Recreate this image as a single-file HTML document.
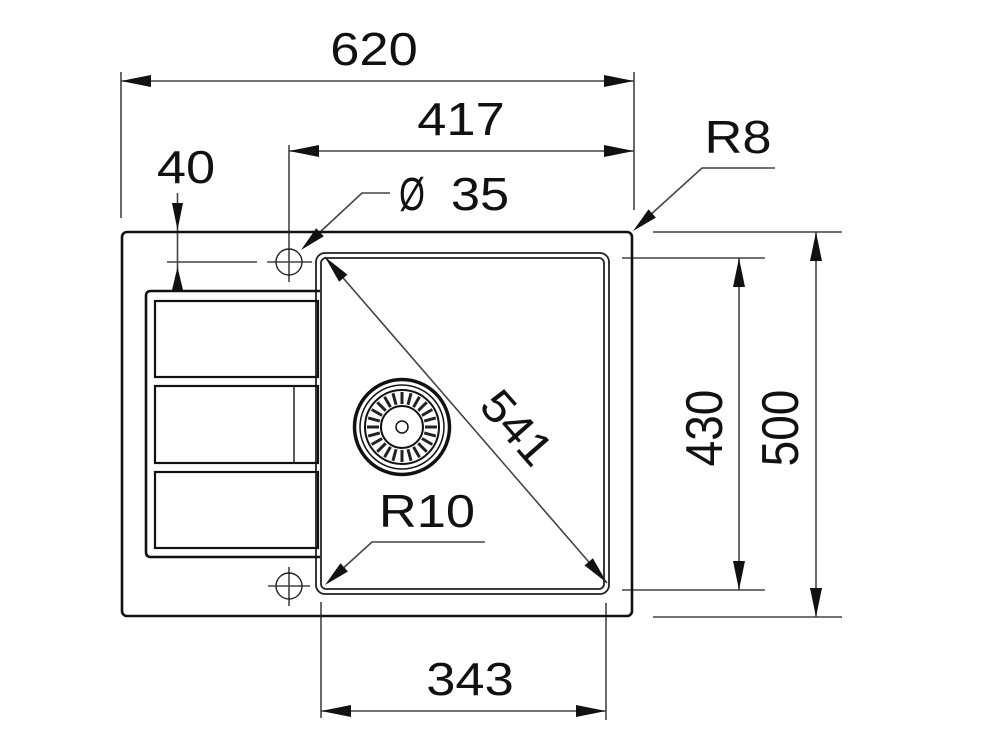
<!DOCTYPE html>
<html>
<head>
<meta charset="utf-8">
<style>
html,body{margin:0;padding:0;background:#fff;}
svg{display:block;}
text{font-family:"Liberation Sans",Arial,sans-serif;fill:#111;font-size:46px;}
</style>
</head>
<body>
<svg width="1000" height="750" viewBox="0 0 1000 750" xmlns="http://www.w3.org/2000/svg">
<rect width="1000" height="750" fill="#fff"/>

<!-- dimension / extension lines -->
<g stroke="#444" stroke-width="1.6" fill="none">
  <!-- 620 -->
  <line x1="121" y1="72" x2="121" y2="218"/>
  <line x1="634" y1="72" x2="634" y2="210"/>
  <line x1="121" y1="81" x2="634" y2="81"/>
  <!-- 417 -->
  <line x1="289" y1="145" x2="289" y2="282"/>
  <line x1="289" y1="151" x2="634" y2="151"/>
  <!-- 40 -->
  <line x1="177.5" y1="193" x2="177.5" y2="290"/>
  <line x1="167" y1="262" x2="257" y2="262"/>
  <line x1="267" y1="262" x2="312" y2="262"/>
  <!-- Ø35 leader -->
  <polyline points="390,193 362,193 305,246"/>
  <!-- R8 leader -->
  <polyline points="775,168 702,168 637,227"/>
  <!-- R10 leader -->
  <polyline points="485,542 372,542 329,581"/>
  <!-- 541 -->
  <line x1="325" y1="257" x2="607" y2="583"/>
  <!-- 430 -->
  <line x1="622" y1="258" x2="765" y2="258"/>
  <line x1="622" y1="590" x2="765" y2="590"/>
  <line x1="739" y1="258" x2="739" y2="590"/>
  <!-- 500 -->
  <line x1="653" y1="232" x2="842" y2="232"/>
  <line x1="653" y1="617" x2="842" y2="617"/>
  <line x1="816" y1="232" x2="816" y2="617"/>
  <!-- 343 -->
  <line x1="321" y1="602" x2="321" y2="718"/>
  <line x1="606" y1="603" x2="606" y2="720"/>
  <line x1="321" y1="711" x2="606" y2="711"/>
  <!-- lower tap crosshair -->
  <line x1="268" y1="586" x2="310" y2="586"/>
  <line x1="289" y1="567" x2="289" y2="606"/>
</g>

<!-- arrowheads -->
<g fill="#111" stroke="none">
  <polygon points="121,81 151,75 151,87"/>
  <polygon points="634,81 604,75 604,87"/>
  <polygon points="289,151 319,145 319,157"/>
  <polygon points="634,151 604,145 604,157"/>
  <polygon points="177.5,230 172,203 183,203"/>
  <polygon points="177.5,267 172,290 183,290"/>
  <polygon points="739,258 733,287 745,287"/>
  <polygon points="739,590 733,561 745,561"/>
  <polygon points="816,232 810,261 822,261"/>
  <polygon points="816,617 810,588 822,588"/>
  <polygon points="321,711 351,705 351,717"/>
  <polygon points="606,711 576,705 576,717"/>
  <polygon points="301,250 323.8,236.2 316.2,228.2"/>
  <polygon points="633,231 655.9,217.6 648.5,209.4"/>
  <polygon points="325,585 347.9,571.5 340.5,563.3"/>
  <polygon points="325,257 339.1,281.8 347.5,274.6"/>
  <polygon points="607,583 584.5,565.4 592.9,558.2"/>
</g>

<!-- outer sink outline -->
<rect x="122" y="232" width="510" height="384" rx="5" ry="5" fill="none" stroke="#111" stroke-width="2.6"/>

<!-- bowl double line -->
<rect x="316" y="253" width="293" height="341" rx="9" ry="9" fill="none" stroke="#222" stroke-width="1.8"/>
<rect x="321" y="258" width="283" height="331" rx="5" ry="5" fill="none" stroke="#222" stroke-width="1.8"/>

<!-- drainer -->
<path d="M320,291 H151 Q146,291 146,296 V552 Q146,557 151,557 H320" fill="none" stroke="#111" stroke-width="2.6"/>
<g fill="none" stroke="#111" stroke-width="2.2">
  <rect x="155" y="301" width="163" height="76"/>
  <rect x="155" y="386" width="163" height="77"/>
  <rect x="155" y="472" width="163" height="76"/>
</g>
<line x1="294" y1="386" x2="294" y2="463" stroke="#222" stroke-width="1.5"/>

<!-- tap holes -->
<circle cx="289" cy="262" r="13" fill="none" stroke="#222" stroke-width="1.4"/>
<circle cx="289" cy="586" r="13" fill="none" stroke="#222" stroke-width="1.4"/>

<!-- strainer -->
<g fill="none" stroke="#111">
  <circle cx="402" cy="427" r="47.5" stroke-width="3.5"/>
  <circle cx="402" cy="427" r="42" stroke-width="1.5"/>
  <circle cx="402" cy="427" r="37" stroke-width="2"/>
  <circle cx="402" cy="427" r="21" stroke-width="2"/>
  <circle cx="402" cy="427" r="6" stroke-width="1.5"/>
  <g stroke-width="3" stroke="#222">
    <line x1="402" y1="404" x2="402" y2="392" transform="rotate(0 402 427)"/>
    <line x1="402" y1="404" x2="402" y2="392" transform="rotate(15 402 427)"/>
    <line x1="402" y1="404" x2="402" y2="392" transform="rotate(30 402 427)"/>
    <line x1="402" y1="404" x2="402" y2="392" transform="rotate(45 402 427)"/>
    <line x1="402" y1="404" x2="402" y2="392" transform="rotate(60 402 427)"/>
    <line x1="402" y1="404" x2="402" y2="392" transform="rotate(75 402 427)"/>
    <line x1="402" y1="404" x2="402" y2="392" transform="rotate(90 402 427)"/>
    <line x1="402" y1="404" x2="402" y2="392" transform="rotate(105 402 427)"/>
    <line x1="402" y1="404" x2="402" y2="392" transform="rotate(120 402 427)"/>
    <line x1="402" y1="404" x2="402" y2="392" transform="rotate(135 402 427)"/>
    <line x1="402" y1="404" x2="402" y2="392" transform="rotate(150 402 427)"/>
    <line x1="402" y1="404" x2="402" y2="392" transform="rotate(165 402 427)"/>
    <line x1="402" y1="404" x2="402" y2="392" transform="rotate(180 402 427)"/>
    <line x1="402" y1="404" x2="402" y2="392" transform="rotate(195 402 427)"/>
    <line x1="402" y1="404" x2="402" y2="392" transform="rotate(210 402 427)"/>
    <line x1="402" y1="404" x2="402" y2="392" transform="rotate(225 402 427)"/>
    <line x1="402" y1="404" x2="402" y2="392" transform="rotate(240 402 427)"/>
    <line x1="402" y1="404" x2="402" y2="392" transform="rotate(255 402 427)"/>
    <line x1="402" y1="404" x2="402" y2="392" transform="rotate(270 402 427)"/>
    <line x1="402" y1="404" x2="402" y2="392" transform="rotate(285 402 427)"/>
    <line x1="402" y1="404" x2="402" y2="392" transform="rotate(300 402 427)"/>
    <line x1="402" y1="404" x2="402" y2="392" transform="rotate(315 402 427)"/>
    <line x1="402" y1="404" x2="402" y2="392" transform="rotate(330 402 427)"/>
    <line x1="402" y1="404" x2="402" y2="392" transform="rotate(345 402 427)"/>
  </g>
</g>

<!-- labels -->
<text text-anchor="middle" transform="translate(374,65) scale(1.14,1)">620</text>
<text text-anchor="middle" transform="translate(461,135) scale(1.14,1)">417</text>
<text text-anchor="middle" transform="translate(186,183) scale(1.14,1)">40</text>
<text text-anchor="middle" transform="translate(412,210) scale(0.72,1)">Ø</text>
<text text-anchor="middle" transform="translate(480,210) scale(1.14,1)">35</text>
<text text-anchor="middle" transform="translate(738,153) scale(1.14,1)">R8</text>
<text text-anchor="middle" transform="translate(427,527) scale(1.14,1)">R10</text>
<text text-anchor="middle" transform="translate(470,695) scale(1.14,1)">343</text>
<text text-anchor="middle" transform="translate(722,428) scale(1.12,1) rotate(-90)">430</text>
<text text-anchor="middle" transform="translate(798,428) scale(1.12,1) rotate(-90)">500</text>
<text text-anchor="middle" transform="translate(505,438) rotate(48.7) scale(1.08,1)">541</text>
</svg>
</body>
</html>
